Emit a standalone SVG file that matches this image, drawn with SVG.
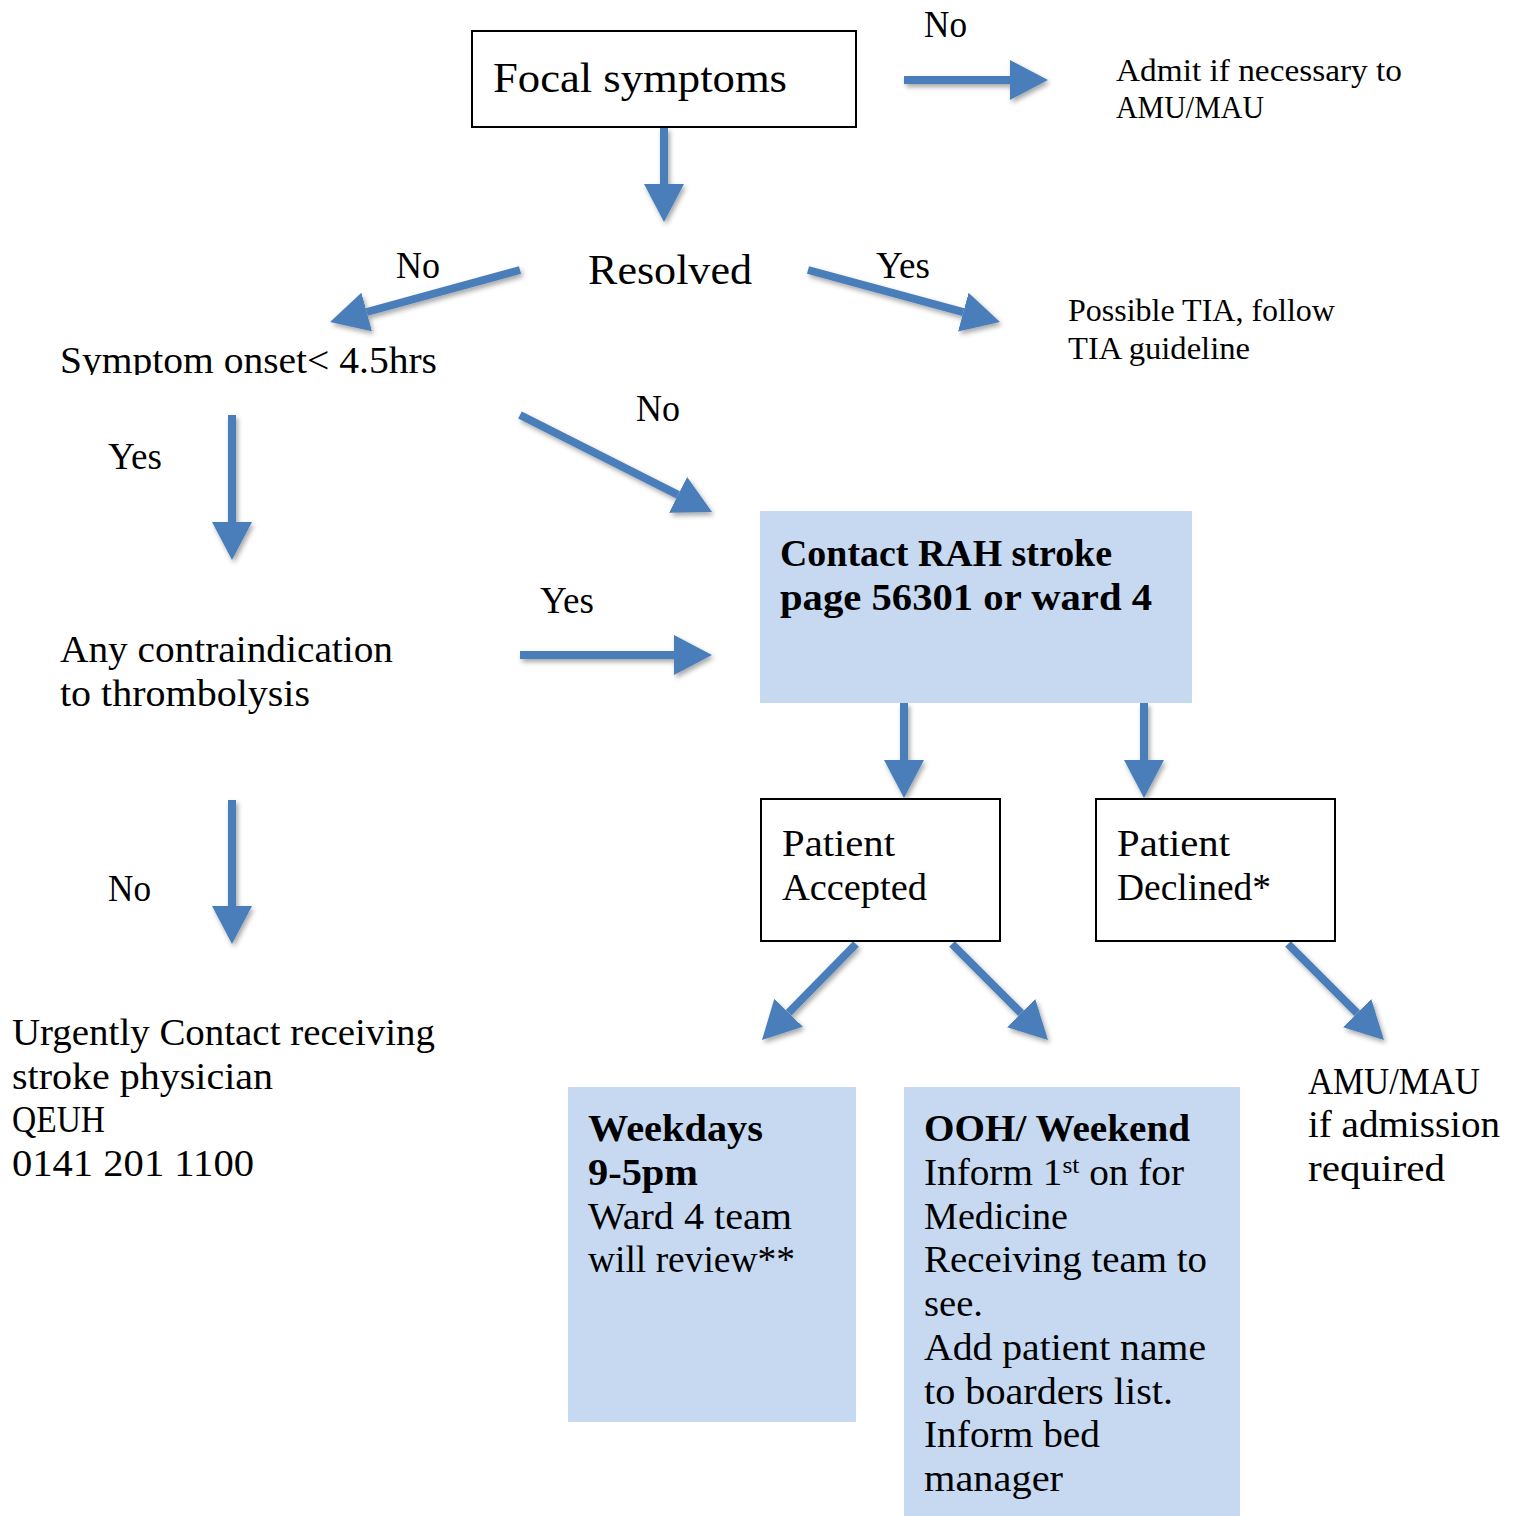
<svg xmlns="http://www.w3.org/2000/svg" width="1520" height="1516" viewBox="0 0 1520 1516">
<style>
text{font-family:"Liberation Serif","DejaVu Serif",serif;fill:#000}
.t36{font-size:37px}
.t32{font-size:31px}
.t42{font-size:42px}
.b{font-weight:bold}
.box{fill:#fff;stroke:#000;stroke-width:2}
.fill{fill:#C6D9F1}
.conn line{stroke:#4A7EBB;stroke-width:8;fill:none}
</style>
<defs>
<marker id="ah" viewBox="0 0 38 40" refX="0" refY="20" markerWidth="38" markerHeight="40" markerUnits="userSpaceOnUse" orient="auto">
<path d="M0,0 L38,20 L0,40 Z" fill="#4A7EBB"/>
</marker>
<filter id="sh" x="-20%" y="-20%" width="140%" height="140%">
<feDropShadow dx="2" dy="3" stdDeviation="2.5" flood-color="#000" flood-opacity="0.35"/>
</filter>
</defs>

<g id="connectors" class="conn" filter="url(#sh)">
<line x1="904" y1="80" x2="1010" y2="80" marker-end="url(#ah)"/>
<line x1="664" y1="128" x2="664" y2="184" marker-end="url(#ah)"/>
<line x1="520" y1="270" x2="366.7" y2="312" marker-end="url(#ah)"/>
<line x1="808" y1="270" x2="963.3" y2="312.1" marker-end="url(#ah)"/>
<line x1="232" y1="415" x2="232" y2="522" marker-end="url(#ah)"/>
<line x1="520" y1="415" x2="678.1" y2="494.9" marker-end="url(#ah)"/>
<line x1="520" y1="655" x2="674" y2="655" marker-end="url(#ah)"/>
<line x1="232" y1="800" x2="232" y2="906" marker-end="url(#ah)"/>
<line x1="904" y1="703" x2="904" y2="760" marker-end="url(#ah)"/>
<line x1="1144" y1="703" x2="1144" y2="760" marker-end="url(#ah)"/>
<line x1="856" y1="944" x2="788.6" y2="1012.8" marker-end="url(#ah)"/>
<line x1="952" y1="944" x2="1021.1" y2="1013.1" marker-end="url(#ah)"/>
<line x1="1288" y1="944" x2="1357.1" y2="1013.1" marker-end="url(#ah)"/>
</g>

<g id="labels">
<text class="t36" x="924" y="37" textLength="43" lengthAdjust="spacingAndGlyphs">No</text>
<text class="t36" x="396" y="278" textLength="44" lengthAdjust="spacingAndGlyphs">No</text>
<text class="t36" x="876" y="278" textLength="54" lengthAdjust="spacingAndGlyphs">Yes</text>
<text class="t36" x="108" y="469" textLength="54" lengthAdjust="spacingAndGlyphs">Yes</text>
<text class="t36" x="636" y="421" textLength="44" lengthAdjust="spacingAndGlyphs">No</text>
<text class="t36" x="540" y="613" textLength="54" lengthAdjust="spacingAndGlyphs">Yes</text>
<text class="t36" x="108" y="901" textLength="43" lengthAdjust="spacingAndGlyphs">No</text>
</g>

<g id="focal">
<rect class="box" x="472" y="31" width="384" height="96"/>
<text class="t42" x="493" y="92" textLength="294" lengthAdjust="spacingAndGlyphs">Focal symptoms</text>
</g>

<g id="admit">
<text class="t32" x="1116" y="81" textLength="286" lengthAdjust="spacingAndGlyphs">Admit if necessary to</text>
<text class="t32" x="1116" y="118" textLength="148" lengthAdjust="spacingAndGlyphs">AMU/MAU</text>
</g>

<g id="resolved">
<text class="t42" x="588" y="284" textLength="164" lengthAdjust="spacingAndGlyphs">Resolved</text>
</g>

<g id="tia">
<text class="t32" x="1068" y="321" textLength="267" lengthAdjust="spacingAndGlyphs">Possible TIA, follow</text>
<text class="t32" x="1068" y="359" textLength="182" lengthAdjust="spacingAndGlyphs">TIA guideline</text>
</g>

<g id="onset">
<clipPath id="oc"><rect x="0" y="330" width="520" height="45"/></clipPath>
<text class="t36" x="60" y="373" textLength="377" lengthAdjust="spacingAndGlyphs" clip-path="url(#oc)">Symptom onset&lt; 4.5hrs</text>
</g>

<g id="contact">
<rect class="fill" x="760" y="511" width="432" height="192"/>
<text class="t36 b" x="780" y="566" textLength="332" lengthAdjust="spacingAndGlyphs">Contact RAH stroke</text>
<text class="t36 b" x="780" y="610" textLength="372" lengthAdjust="spacingAndGlyphs">page 56301 or ward 4</text>
</g>

<g id="contraindication">
<text class="t36" x="60" y="662" textLength="333" lengthAdjust="spacingAndGlyphs">Any contraindication</text>
<text class="t36" x="60" y="706" textLength="250" lengthAdjust="spacingAndGlyphs">to thrombolysis</text>
</g>

<g id="accepted">
<rect class="box" x="761" y="799" width="239" height="142"/>
<text class="t36" x="782" y="856" textLength="113" lengthAdjust="spacingAndGlyphs">Patient</text>
<text class="t36" x="782" y="900" textLength="145" lengthAdjust="spacingAndGlyphs">Accepted</text>
</g>

<g id="declined">
<rect class="box" x="1096" y="799" width="239" height="142"/>
<text class="t36" x="1117" y="856" textLength="113" lengthAdjust="spacingAndGlyphs">Patient</text>
<text class="t36" x="1117" y="900" textLength="154" lengthAdjust="spacingAndGlyphs">Declined*</text>
</g>

<g id="urgent">
<text class="t36" x="12" y="1045" textLength="423" lengthAdjust="spacingAndGlyphs">Urgently Contact receiving</text>
<text class="t36" x="12" y="1089" textLength="261" lengthAdjust="spacingAndGlyphs">stroke physician</text>
<text class="t36" x="12" y="1132" textLength="93" lengthAdjust="spacingAndGlyphs">QEUH</text>
<text class="t36" x="12" y="1176" textLength="242" lengthAdjust="spacingAndGlyphs">0141 201 1100</text>
</g>

<g id="weekdays">
<rect class="fill" x="568" y="1087" width="288" height="335"/>
<text class="t36 b" x="588" y="1141" textLength="175" lengthAdjust="spacingAndGlyphs">Weekdays</text>
<text class="t36 b" x="588" y="1185" textLength="110" lengthAdjust="spacingAndGlyphs">9-5pm</text>
<text class="t36" x="588" y="1229" textLength="204" lengthAdjust="spacingAndGlyphs">Ward 4 team</text>
<text class="t36" x="588" y="1272" textLength="207" lengthAdjust="spacingAndGlyphs">will review**</text>
</g>

<g id="ooh">
<rect class="fill" x="904" y="1087" width="336" height="429"/>
<text class="t36 b" x="924" y="1141" textLength="266" lengthAdjust="spacingAndGlyphs">OOH/ Weekend</text>
<text class="t36" x="924" y="1185" textLength="260" lengthAdjust="spacingAndGlyphs">Inform 1<tspan font-size="24" dy="-12">st</tspan><tspan dy="12"> on for</tspan></text>
<text class="t36" x="924" y="1229" textLength="144" lengthAdjust="spacingAndGlyphs">Medicine</text>
<text class="t36" x="924" y="1272" textLength="283" lengthAdjust="spacingAndGlyphs">Receiving team to</text>
<text class="t36" x="924" y="1316" textLength="59" lengthAdjust="spacingAndGlyphs">see.</text>
<text class="t36" x="924" y="1360" textLength="282" lengthAdjust="spacingAndGlyphs">Add patient name</text>
<text class="t36" x="924" y="1404" textLength="249" lengthAdjust="spacingAndGlyphs">to boarders list.</text>
<text class="t36" x="924" y="1447" textLength="176" lengthAdjust="spacingAndGlyphs">Inform bed</text>
<text class="t36" x="924" y="1491" textLength="139" lengthAdjust="spacingAndGlyphs">manager</text>
</g>

<g id="amu">
<text class="t36" x="1308" y="1094" textLength="172" lengthAdjust="spacingAndGlyphs">AMU/MAU</text>
<text class="t36" x="1308" y="1137" textLength="192" lengthAdjust="spacingAndGlyphs">if admission</text>
<text class="t36" x="1308" y="1181" textLength="137" lengthAdjust="spacingAndGlyphs">required</text>
</g>
</svg>
